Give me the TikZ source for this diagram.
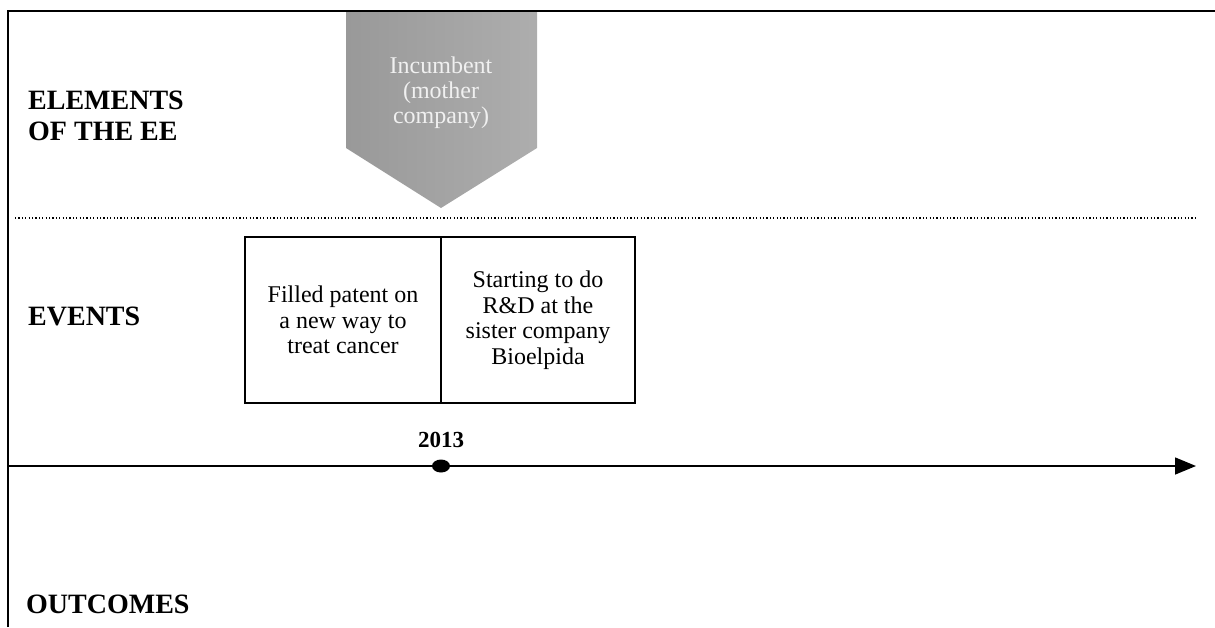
\documentclass[tikz,border=0pt]{standalone}
\usepackage{fontspec}
\setmainfont{Liberation Serif}
\usepackage{tikz}
\usetikzlibrary{arrows.meta,positioning,shapes.geometric}
\newcommand{\rowlabel}{\fontsize{28}{31}\selectfont\bfseries}

\begin{document}
\begin{tikzpicture}[x=1pt, y=-1pt,
  eventbox/.style={draw, line width=1.5pt, minimum width=196pt, minimum height=166pt,
    outer sep=0pt, inner sep=4pt, align=center,
    font=\fontsize{24}{25.5}\selectfont},
  rowtitle/.style={anchor=west, inner sep=0pt, align=left, font=\rowlabel},
  yeardot/.style={ellipse, fill=black, minimum width=18pt, minimum height=13pt, inner sep=0pt}]
\useasboundingbox (0,0) rectangle (1215,627);

% incumbent banner
\shade[left color=black!40, right color=black!32] (346,11) -- (537,11) -- (537,148) -- (441,208) -- (346,148) -- cycle;
\node[align=center, text=white!94!black, font=\fontsize{24}{25}\selectfont] (incumbent) at (441,93) {Incumbent\\(mother\\company)};

% frame
\draw[line width=1.5pt] (8,627) -- (8,11) -- (1215,11);
\draw[dotted, line width=1.2pt, dash pattern=on 1.2pt off 2.2pt] (15,218) -- (1196,218);

% row titles
\node[rowtitle] (elements) at (28,116) {ELEMENTS\\OF THE EE};
\node[rowtitle] (events) at (28,316) {EVENTS};
\node[rowtitle, anchor=base west] (outcomes) at (26,613) {OUTCOMES};

% events
\node[eventbox] (patent) at (343,320) {Filled patent on\\a new way to\\treat cancer};
\node[eventbox, right=0pt of patent, minimum width=194pt] (rnd) {Starting to do\\R\&D at the\\sister company\\Bioelpida};

% timeline
\coordinate (tstart) at (8,466);
\coordinate (tend) at (1196,466);
\draw[line width=1.5pt, -{Triangle[length=21pt, width=17pt]}] (tstart) -- (tend);
\node[yeardot] (y2013) at (441,466) {};
\node[above=11pt of y2013, inner sep=0pt, font=\fontsize{23}{24}\selectfont\bfseries] (year) {2013};
\end{tikzpicture}
\end{document}
